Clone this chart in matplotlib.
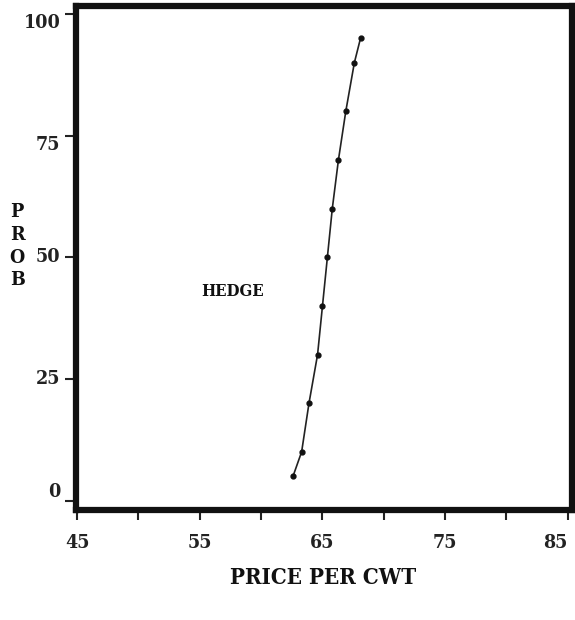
import matplotlib
matplotlib.use("Agg")
import matplotlib.pyplot as plt
from matplotlib import font_manager

# hedge price distribution
price = [62.6, 63.3, 63.9, 64.6, 65.0, 65.4, 65.8, 66.3, 66.9, 67.6, 68.1]
prob = [5, 10, 20, 30, 40, 50, 60, 70, 80, 90, 95]

xticks = [45, 50, 55, 60, 65, 70, 75, 80, 85]
xticklabels = ['45', '', '55', '', '65', '', '75', '', '85']
yticks = [0, 25, 50, 75, 100]
yticklabels = ['0', '25', '50', '75', '100']

# pick a narrow bold face if there is one
names = [(f.name, f.stretch) for f in font_manager.fontManager.ttflist]
font = dict(family='DejaVu Serif', weight='bold')
if ('DejaVu Serif', 'condensed') in names:
    font['stretch'] = 'condensed'
elif any(n == 'Liberation Sans Narrow' for n, s in names):
    font = dict(family='Liberation Sans Narrow', weight='bold')

fig = plt.figure(figsize=(5.75, 6.2), dpi=100)
ax = fig.add_axes([0.132, 0.177, 0.863, 0.813])

ax.plot(price, prob, color='#222222', lw=1.2, marker='o', ms=3.5,
        mfc='#111111', mec='#111111')

ax.set_xlim(44.9, 85.35)
ax.set_ylim(-2, 101.6)

for s in ax.spines.values():
    s.set_linewidth(4.5)
    s.set_color('#111111')

ax.set_xticks(xticks)
ax.set_xticklabels(xticklabels, fontsize=14, **font)
ax.get_xticklabels()[-1].set_ha('right')
ax.get_xticklabels()[-1].set_x(85.4)
ax.set_yticks(yticks)
ax.set_yticklabels(yticklabels, fontsize=14, **font)
ax.tick_params(axis='x', length=7, width=1.5, pad=10, colors='#222222')
ax.tick_params(axis='y', length=8, width=1.5, pad=3, colors='#222222')

# the old plotter put the top labels under their ticks and the 0 above it
for lab, va in zip(ax.get_yticklabels(),
                   ['bottom', 'center', 'center', 'top', 'top']):
    lab.set_va(va)

ax.text(57.7, 42.9, 'HEDGE', ha='center', va='center', fontsize=12,
        color='#111111', **font)
fig.text(0.03, 0.603, '\n'.join('PROB'), ha='center', va='center',
         fontsize=14, linespacing=1.35, color='#111111', **font)
fig.text(0.562, 0.068, 'PRICE PER CWT', ha='center', va='center',
         fontsize=16, color='#111111', **font)

fig.savefig('out.png', dpi=100, facecolor='white')
